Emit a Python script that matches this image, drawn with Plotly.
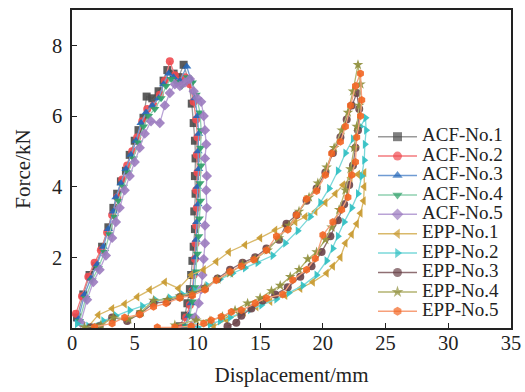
import plotly.graph_objects as go

# ---- data (Displacement mm, Force kN) ----
acf1_x = [0.4,0.9,1.4,1.9,2.4,2.9,3.3,3.6,3.9,4.3,4.6,5.0,5.3,5.7,5.95,6.4,6.9,7.3,7.6,8.1,8.5,8.9,9.3,9.55,9.7,9.8,9.85,9.8,9.85,9.75,9.8,9.7,9.6,9.5,9.4,9.2,9.0,8.6]
acf1_y = [0.3,0.95,1.5,1.75,2.3,2.85,3.4,3.8,4.15,4.45,4.9,5.3,5.6,5.95,6.55,6.5,6.7,7.0,7.3,7.2,7.1,7.45,7.0,6.35,5.8,5.3,4.8,4.3,3.8,3.3,2.8,2.3,1.9,1.5,1.1,0.7,0.35,0.05]

acf2_x = [0.3,0.8,1.3,1.8,2.3,2.8,3.2,3.6,4.0,4.4,4.8,5.2,5.6,6.0,6.5,7.0,7.4,7.8,8.2,8.6,9.0,9.4,9.7,9.9,10.0,9.95,10.0,9.9,9.95,9.9,9.85,9.8,9.7,9.6,9.4,9.1,8.8]
acf2_y = [0.4,0.9,1.45,1.85,2.2,2.7,3.2,3.7,4.2,4.6,5.0,5.4,5.85,6.2,6.3,6.6,7.0,7.55,7.15,7.0,7.1,6.9,6.4,5.9,5.4,4.9,4.4,3.9,3.4,2.9,2.4,1.95,1.5,1.05,0.65,0.3,0.05]

acf3_x = [0.5,1.0,1.5,2.0,2.5,2.9,3.3,3.5,3.9,4.3,4.7,5.1,5.5,5.9,6.4,6.9,7.3,7.7,8.1,8.6,9.15,9.5,9.8,10.0,10.1,10.05,10.1,10.0,10.05,9.95,9.9,9.85,9.75,9.65,9.5,9.3,9.0]
acf3_y = [0.25,0.95,1.4,1.8,2.3,2.8,3.3,3.7,4.1,4.5,4.9,5.3,5.8,6.1,6.3,6.5,6.9,7.2,7.1,7.0,7.4,7.0,6.5,6.0,5.5,5.0,4.5,4.0,3.5,3.0,2.5,2.0,1.55,1.1,0.7,0.35,0.05]

acf4_x = [0.6,1.1,1.6,2.1,2.6,3.0,3.4,3.7,4.1,4.5,4.9,5.3,5.7,6.1,6.6,7.1,7.5,7.9,8.3,8.75,9.2,9.6,9.9,10.2,10.3,10.25,10.3,10.2,10.25,10.15,10.1,10.0,9.9,9.8,9.6,9.4,9.1]
acf4_y = [0.2,0.85,1.35,1.7,2.15,2.65,3.15,3.6,4.0,4.4,4.8,5.25,5.7,6.0,6.2,6.5,6.85,7.05,6.95,6.85,7.1,6.95,6.6,6.1,5.6,5.1,4.6,4.1,3.6,3.1,2.6,2.1,1.6,1.15,0.75,0.35,0.05]

acf5_x = [0.7,1.2,1.7,2.2,2.7,3.2,3.5,3.8,4.2,4.6,5.0,5.4,5.8,6.3,7.0,7.4,7.8,8.2,8.6,9.0,9.4,9.7,10.0,10.3,10.5,10.6,10.7,10.6,10.75,10.7,10.75,10.6,10.6,10.5,10.4,10.3,10.1,9.8,9.5]
acf5_y = [0.15,0.8,1.3,1.65,2.05,2.55,3.0,3.4,3.9,4.3,4.7,5.1,5.5,5.85,5.8,6.3,6.65,6.9,6.85,6.95,7.05,6.7,6.5,6.4,6.0,5.6,5.2,4.8,4.3,3.9,3.4,2.9,2.4,1.95,1.5,1.1,0.7,0.3,0.05]

epp1_x = [1.2,2.1,3.2,4.2,5.2,6.2,7.4,8.5,9.5,10.5,11.5,12.5,13.8,15.0,16.2,17.0,17.8,18.6,19.4,20.2,21.0,21.6,22.2,22.8,23.3,
          23.3,23.25,23.0,22.7,22.3,21.8,21.4,20.8,20.3,19.2,18.2,17.0,15.8,14.7,13.7,12.3,11.3]
epp1_y = [0.0,0.37,0.55,0.68,0.88,1.08,1.3,1.12,1.5,1.65,1.88,2.15,2.35,2.55,2.77,2.9,3.0,3.15,3.3,3.55,3.8,4.05,4.25,4.35,4.4,
          4.0,3.6,3.25,2.95,2.65,2.4,2.0,1.75,1.55,1.3,1.12,0.92,0.75,0.6,0.45,0.23,0.05]

epp2_x = [0.4,1.3,2.5,3.5,4.6,5.6,6.7,7.8,8.8,9.8,10.8,11.8,12.8,13.8,14.8,16.0,17.0,18.0,19.0,19.8,20.5,21.2,21.8,22.4,23.0,23.4,
          23.45,23.35,23.3,23.1,22.8,22.3,21.7,21.2,20.8,20.3,19.5,18.4,17.3,16.3,15.1,14.2,13.4,12.6,11.8,11.0,10.0]
epp2_y = [0.12,0.05,0.2,0.35,0.5,0.62,0.78,0.85,0.95,1.05,1.2,1.38,1.55,1.7,1.85,2.05,2.4,2.75,3.15,3.55,3.95,4.45,4.95,5.35,5.7,5.95,
          5.6,5.2,4.75,4.3,3.8,3.4,3.0,2.6,2.25,1.9,1.5,1.2,1.0,0.82,0.65,0.52,0.42,0.3,0.2,0.1,0.02]

epp3_x = [1.5,2.2,3.2,4.4,5.4,6.5,7.6,8.6,9.5,10.6,11.6,12.6,13.6,14.6,15.5,16.5,17.1,17.9,18.7,19.5,20.2,20.8,21.4,21.9,22.3,22.7,
          22.9,22.8,22.6,22.4,22.1,21.7,21.2,20.6,19.9,19.1,18.2,17.2,16.2,15.2,14.3,13.5,13.1,12.4]
epp3_y = [0.02,0.05,0.3,0.2,0.4,0.7,0.75,0.88,0.95,1.12,1.4,1.65,1.85,2.0,2.25,2.5,2.95,3.2,3.6,3.95,4.4,4.95,5.4,5.9,6.3,6.65,
          6.2,5.6,5.1,4.6,4.05,3.5,3.05,2.6,2.15,1.75,1.45,1.15,0.95,0.78,0.55,0.35,0.15,0.05]

epp4_x = [1.0,2.3,3.3,4.5,5.5,6.5,7.6,8.6,9.6,10.6,11.6,12.6,13.6,14.6,15.6,16.5,17.3,18.1,18.9,19.6,20.3,20.9,21.5,22.0,22.4,22.8,
          23.0,22.9,22.7,22.5,22.2,21.8,21.3,20.7,20.2,19.5,18.8,18.1,17.4,16.6,15.9,15.0,14.0,13.0,12.0,11.0,9.9,8.2]
epp4_y = [0.02,0.08,0.3,0.25,0.45,0.78,0.8,0.9,1.0,1.15,1.38,1.55,1.8,1.95,2.2,2.55,2.9,3.3,3.7,4.1,4.55,5.1,5.6,6.1,6.7,7.45,
          6.9,6.3,5.7,5.1,4.5,3.9,3.35,2.85,2.5,2.15,1.95,1.65,1.45,1.2,1.05,0.85,0.7,0.5,0.32,0.2,0.22,0.08]

epp5_x = [1.8,3.2,4.2,5.4,6.5,7.5,8.6,9.6,10.6,11.5,12.6,13.5,14.5,15.5,16.3,17.2,17.9,18.7,19.5,20.2,20.7,21.4,21.8,22.2,22.6,23.0,
          23.1,23.0,22.7,22.6,22.3,22.0,21.5,20.8,20.0,19.4,18.7,17.6,16.8,15.5,14.6,13.5,12.7,11.9,11.1,10.5,9.5,8.2,6.8]
epp5_y = [0.03,0.13,0.3,0.38,0.6,0.7,0.85,0.92,1.08,1.35,1.6,1.75,1.93,2.2,2.6,2.78,3.2,3.65,3.88,4.33,4.94,5.27,5.7,6.3,6.85,7.2,
          6.45,6.0,5.4,4.7,4.33,3.7,3.35,3.0,2.63,1.97,1.65,1.36,0.95,0.85,0.7,0.5,0.45,0.32,0.22,0.13,0.05,0.02,0.02]

names = ["ACF-No.1","ACF-No.2","ACF-No.3","ACF-No.4","ACF-No.5",
         "EPP-No.1","EPP-No.2","EPP-No.3","EPP-No.4","EPP-No.5"]
xs = [acf1_x,acf2_x,acf3_x,acf4_x,acf5_x,epp1_x,epp2_x,epp3_x,epp4_x,epp5_x]
ys = [acf1_y,acf2_y,acf3_y,acf4_y,acf5_y,epp1_y,epp2_y,epp3_y,epp4_y,epp5_y]
marker_colors = ["#4a4a4a","#ef4a50","#2467b8","#2e9e68","#9b7bbf",
                 "#c8992e","#2ebfc2","#6a4348","#8e8e3a","#f26522"]
line_colors = ["#9a9a9a","#f37a7e","#6f9bd3","#8fd1b0","#b9a3d6",
               "#d9b96a","#7ad8da","#8f6f73","#b3b370","#f7a07a"]
symbols = ["square","circle","triangle-up","triangle-down","diamond",
           "triangle-left","triangle-right","circle","star","hexagon"]

FONT = "Liberation Serif"
TXT = "#222222"

fig = go.Figure()
for n, x, y, mc, lc, s in zip(names, xs, ys, marker_colors, line_colors, symbols):
    fig.add_trace(go.Scatter(
        x=x, y=y, name=n, mode="lines+markers", showlegend=False,
        line=dict(color=lc, width=1.3),
        marker=dict(symbol=s, size=8, color=mc, opacity=0.9, line=dict(width=0)),
    ))

# ---- legend drawn on an overlay axis measured in plot-area pixels ----
PW, PH = 439, 318
leg_x0, leg_x1, leg_txt = 306, 345, 350
leg_top, leg_step = 328 - 136.7, 19.4
for i, (n, mc, lc, s) in enumerate(zip(names, marker_colors, line_colors, symbols)):
    yc = leg_top - i * leg_step
    fig.add_trace(go.Scatter(
        x=[leg_x0, (leg_x0 + leg_x1) / 2, leg_x1], y=[yc, yc, yc],
        xaxis="x2", yaxis="y2", mode="lines+markers", showlegend=False,
        hoverinfo="skip", cliponaxis=False,
        line=dict(color=lc, width=1.5),
        marker=dict(symbol=s, size=[0, 9, 0], color=mc, line=dict(width=0)),
    ))
    fig.add_trace(go.Scatter(
        x=[leg_txt], y=[yc], xaxis="x2", yaxis="y2", mode="text",
        text=[n], textposition="middle right", showlegend=False,
        hoverinfo="skip", cliponaxis=False,
        textfont=dict(family=FONT, size=19, color=TXT),
    ))

fig.update_layout(
    width=525, height=392,
    margin=dict(l=72, r=14, t=10, b=64, autoexpand=False),
    paper_bgcolor="white", plot_bgcolor="white",
    font=dict(family=FONT, size=20, color=TXT),
    showlegend=False,
    xaxis=dict(range=[0, 35], tickvals=[0,5,10,15,20,25,30,35],
               ticks="inside", ticklen=5, tickwidth=1.2, tickcolor=TXT,
               ticklabelstandoff=-4, automargin=False,
               showline=True, linecolor=TXT, linewidth=1.5, mirror=True,
               showgrid=False, zeroline=False,
               tickfont=dict(family=FONT, size=20.5),
               title=dict(text="Displacement/mm", font=dict(family=FONT, size=21), standoff=14)),
    yaxis=dict(range=[0, 9], tickvals=[2,4,6,8],
               ticks="inside", ticklen=5, tickwidth=1.2, tickcolor=TXT,
               ticklabelstandoff=4, automargin=False,
               showline=True, linecolor=TXT, linewidth=1.5, mirror=True,
               showgrid=False, zeroline=False,
               tickfont=dict(family=FONT, size=20.5),
               title=dict(text="Force/kN", font=dict(family=FONT, size=21), standoff=16)),
    xaxis2=dict(overlaying="x", range=[0, PW], visible=False, fixedrange=True),
    yaxis2=dict(overlaying="y", range=[0, PH], visible=False, fixedrange=True),
)
fig.write_html("out.html")
